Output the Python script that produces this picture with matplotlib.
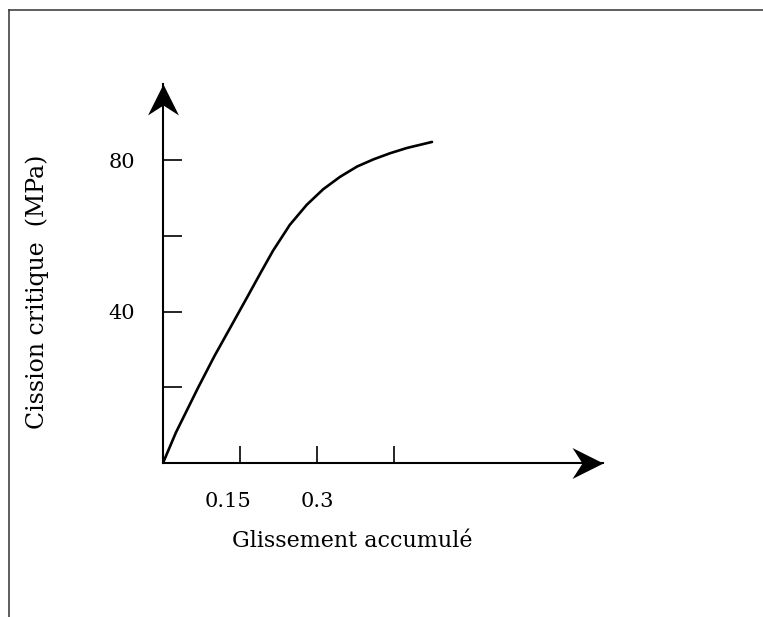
import matplotlib
matplotlib.use("Agg")
import matplotlib.pyplot as plt
from matplotlib.path import Path
from matplotlib.lines import Line2D

# strain hardening curve
glissement = [0, 0.025, 0.068, 0.100, 0.130, 0.164, 0.190, 0.214, 0.247,
              0.280, 0.312, 0.345, 0.378, 0.410, 0.442, 0.475, 0.524]
cission = [0, 8.0, 19.8, 28.2, 35.5, 43.8, 50.2, 56.0, 62.9,
           68.2, 72.3, 75.6, 78.3, 80.2, 81.8, 83.2, 84.8]

x_ticks = [0.15, 0.3, 0.45]
x_tick_labels = ["0.15", "0.3", ""]
y_ticks = [20, 40, 60, 80]
y_tick_labels = ["", "40", "", "80"]

x_max = 0.857
y_max = 100.1

plt.rcParams['font.family'] = ['DejaVu Serif']

fig = plt.figure(figsize=(7.63, 6.17), dpi=100)
ax = fig.add_axes([163 / 763, 154 / 617, 440 / 763, 379 / 617])
ax.set_xlim(0, x_max)
ax.set_ylim(0, y_max)

for side in ["top", "right"]:
    ax.spines[side].set_visible(False)
for side in ["left", "bottom"]:
    ax.spines[side].set_linewidth(1.5)

ax.plot(glissement, cission, color="black", lw=1.9,
        solid_capstyle="round", solid_joinstyle="round")

# ticks pointing inside, like the hand-drawn axes
ax.set_xticks(x_ticks)
ax.set_xticklabels([])
ax.set_yticks(y_ticks)
ax.set_yticklabels(y_tick_labels)
ax.tick_params(axis="x", direction="in", length=12.2, width=1.2)
ax.tick_params(axis="y", direction="in", length=13.7, width=1.2,
               pad=20, labelsize=15)

# x tick labels (the 0.15 sits a little left of its tick in the original)
label_nudge = [-9, 0, 0]
for t, lab, dx in zip(x_ticks, x_tick_labels, label_nudge):
    ax.annotate(lab, xy=(t, 0), xytext=(dx, -21), textcoords="offset points",
                ha="center", va="top", fontsize=15, annotation_clip=False)

ax.text(0.43, -0.222, "Glissement accumulé", transform=ax.transAxes,
        ha="center", va="baseline", fontsize=16)
ax.text(-0.286, 0.452, "Cission critique  (MPa)", transform=ax.transAxes,
        ha="center", va="center", rotation=90, fontsize=17)

# barbed arrow heads at the end of both axes
head_right = Path([(0, 0), (-31, 15.5), (-21, 0), (-31, -15.5), (0, 0)],
                  [Path.MOVETO, Path.LINETO, Path.LINETO, Path.LINETO, Path.CLOSEPOLY])
head_up = Path([(0, 0), (-15.5, -31), (0, -21), (15.5, -31), (0, 0)],
               [Path.MOVETO, Path.LINETO, Path.LINETO, Path.LINETO, Path.CLOSEPOLY])
ax.plot([x_max], [0], marker=head_right, ms=44.6, color="black",
        mew=0, clip_on=False)
ax.plot([0], [y_max], marker=head_up, ms=44.6, color="black",
        mew=0, clip_on=False)

# frame of the scanned page (top and left edges only)
fig.add_artist(Line2D([9 / 763, 1], [1 - 10 / 617, 1 - 10 / 617],
                      transform=fig.transFigure, color="#333333", lw=1.1))
fig.add_artist(Line2D([9 / 763, 9 / 763], [0, 1 - 10 / 617],
                      transform=fig.transFigure, color="#333333", lw=1.1))

fig.savefig("out.png", dpi=100)
